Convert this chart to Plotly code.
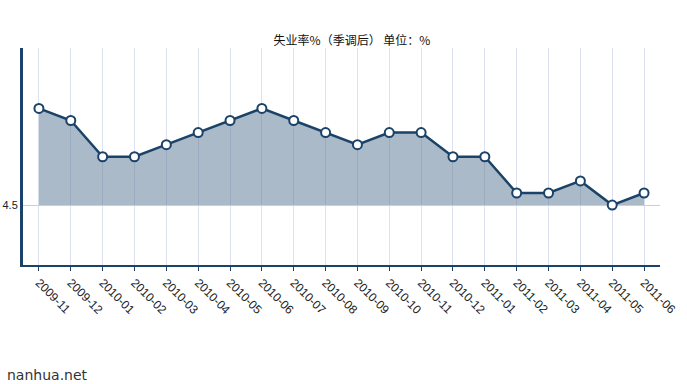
import plotly.graph_objects as go

months = ["2009-11", "2009-12", "2010-01", "2010-02", "2010-03", "2010-04", "2010-05",
          "2010-06", "2010-07", "2010-08", "2010-09", "2010-10", "2010-11", "2010-12",
          "2011-01", "2011-02", "2011-03", "2011-04", "2011-05", "2011-06"]
rate = [5.3, 5.2, 4.9, 4.9, 5.0, 5.1, 5.2, 5.3, 5.2, 5.1, 5.0, 5.1, 5.1, 4.9,
        4.9, 4.6, 4.6, 4.7, 4.5, 4.6]
baseline = 4.5
y_ticks = [4.5]

L, R, T, B = 23, 660, 48, 265
W, H = 687, 384

xs = list(range(len(months)))
fig = go.Figure()
fig.add_trace(go.Scatter(x=xs, y=[baseline] * len(months), mode="lines",
                         line=dict(width=0), hoverinfo="skip", showlegend=False))
fig.add_trace(go.Scatter(x=xs, y=rate, mode="lines+markers", fill="tonexty",
                         fillcolor="rgba(100,130,155,0.55)",
                         line=dict(color="#1b4268", width=2.5),
                         marker=dict(size=9, color="white",
                                     line=dict(color="#1b4268", width=2)),
                         showlegend=False))

fig.update_layout(
    width=W, height=H,
    margin=dict(l=L, r=W - R, t=T, b=H - B),
    paper_bgcolor="white", plot_bgcolor="white",
    font=dict(family="Liberation Sans, Arial, sans-serif", size=11, color="#222"),
    title=dict(text="失业率%（季调后） 单位：%", x=352 / W, xanchor="center",
               y=1 - 41 / H, yanchor="middle",
               font=dict(family="Noto Sans CJK SC", size=12, color="#111")),
    xaxis=dict(range=[-0.5, len(months) - 0.5], tickmode="array", tickvals=xs,
               ticktext=months, tickangle=45, showgrid=True, gridcolor="#dde0ee",
               gridwidth=1, showline=True, linecolor="#1b4268", linewidth=2,
               ticks="outside", ticklen=4, tickcolor="#1b4268", zeroline=False,
               automargin=False, tickfont=dict(size=12, color="#222")),
    yaxis=dict(range=[4.004, 5.8], tickmode="array", tickvals=y_ticks,
               ticktext=["4.5"], showgrid=True, gridcolor="#c8cede",
               showline=True, linecolor="#1b4268", linewidth=3, zeroline=False,
               ticks="", automargin=False, tickfont=dict(size=11, color="#222")),
)
fig.add_annotation(text="nanhua.net", x=(5 - L) / (R - L), y=(B - 375) / (B - T),
                   xref="paper", yref="paper", xanchor="left", yanchor="middle",
                   showarrow=False,
                   font=dict(family="DejaVu Sans", size=14, color="#333"))
fig.write_html("out.html", config={"displayModeBar": False},
               post_script="document.body.style.margin='0';document.body.style.padding='0';")
